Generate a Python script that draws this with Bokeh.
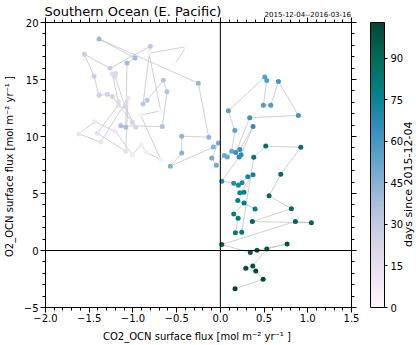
import numpy as np
from bokeh.plotting import figure
from bokeh.models import (ColumnDataSource, LinearColorMapper, ColorBar, Span,
                          LinearAxis, SingleIntervalTicker, FixedTicker)
from bokeh.embed import file_html
from bokeh.resources import INLINE

# ---------------- data ----------------
co2_flux = [-0.515, -0.392, -0.816, -0.682, -0.911, -0.682, -0.854, -0.904, -1.007, -1.197,
            -1.437, -1.617, -1.368, -1.056, -1.082, -1.407, -1.167, -1.167, -1.236, -1.197,
            -1.205, -1.090, -0.968, -1.007, -1.236, -1.293, -1.388, -1.445, -1.556, -1.262,
            -0.801, -0.884, -0.839, -0.652, -0.610, -0.664, -1.140, -1.082, -1.068, -0.976,
            -1.388, -0.252, -0.133, -0.442, -0.442, -0.572, -0.080, -0.023, -0.098, -0.046,
            0.046, 0.080, 0.130, 0.165, 0.092, 0.508, 0.531, 0.492, 0.577, 0.664,
            0.892, 0.336, 0.176, 0.222, 0.374, 0.237, 0.214, 0.016, 0.153, 0.248,
            0.206, 0.314, 0.374, 0.222, 0.271, 0.199, 0.397, 0.271, 0.153, 0.203,
            0.172, 0.245, 0.382, 0.519, 0.920, 0.691, 0.557, 0.812, 0.366, 1.041,
            0.858, 0.016, 0.343, 0.420, 0.763, 0.531, 0.371, 0.291, 0.405, 0.489,
            0.168]
o2_flux = [16.39, 17.87, 17.31, 12.25, 11.88, 7.98, 8.64, 9.31, 8.41, 10.43,
           11.30, 10.23, 9.51, 13.36, 8.70, 10.29, 12.75, 13.06, 15.49, 15.55,
           15.29, 12.60, 10.81, 11.24, 13.50, 13.70, 13.62, 15.29, 17.22, 15.98,
           17.92, 12.84, 13.18, 14.94, 13.93, 10.87, 10.95, 10.81, 16.44, 16.88,
           18.56, 14.68, 9.94, 10.03, 8.55, 7.40, 9.07, 9.42, 8.12, 7.48,
           8.33, 8.20, 8.70, 10.52, 12.25, 15.23, 14.92, 12.75, 12.75, 14.83,
           11.85, 11.65, 8.59, 8.85, 10.87, 8.41, 8.20, 6.07, 5.90, 5.95,
           5.72, 6.47, 6.64, 5.06, 5.12, 4.39, 3.64, 4.16, 3.21, 2.83,
           1.56, 1.61, 8.18, 9.16, 9.05, 6.68, 4.80, 3.67, 2.54, 2.43,
           2.54, 0.52, -0.17, 0.03, 0.57, 0.14, -1.36, -1.56, -1.80, -2.52,
           -3.36]
days = [0, 1, 2, 3, 4, 5, 6, 7, 8, 9, 10, 11, 12, 13, 14, 15, 16, 17, 18, 19,
        20, 21, 22, 23, 24, 25, 26, 27, 28, 29, 31, 32, 33, 34, 35, 36, 37, 38, 39, 40,
        41, 42, 43, 44, 45, 46, 47, 48, 49, 50, 51, 52, 53, 54, 55, 56, 57, 58, 59, 61,
        62, 63, 64, 65, 66, 67, 68, 69, 70, 71, 72, 73, 74, 75, 76, 77, 78, 79, 80, 81,
        82, 83, 84, 86, 87, 88, 89, 90, 91, 92, 93, 94, 95, 96, 97, 98, 99, 100, 101, 102,
        103]

x_ticks = [-2.0, -1.5, -1.0, -0.5, 0.0, 0.5, 1.0, 1.5]
x_tick_labels = ["−2.0", "−1.5", "−1.0", "−0.5", "0.0", "0.5", "1.0", "1.5"]
y_ticks = [-5, 0, 5, 10, 15, 20]
y_tick_labels = ["−5", "0", "5", "10", "15", "20"]
cbar_ticks = [0, 15, 30, 45, 60, 75, 90]
day_min, day_max = 0, 103

title_text = "Southern Ocean (E. Pacific)"
period_text = "2015-12-04--2016-03-16"
x_label = "CO2_OCN surface flux [mol m⁻²  yr⁻¹ ]"
y_label = "O2_OCN surface flux [mol m⁻²  yr⁻¹ ]"
cbar_label = "days since 2015-12-04"

# anchor positions (in axis units) of the header / colour-bar texts
title_anchor_x = -1.0      # centre of the title
period_anchor_x = 1.0      # centre of the period text
cbar_label_anchor_y = 0.3  # anchor of the colour-bar label

# PuBuGn colormap (light -> dark), interpolated
anchors = ['#fff7fb', '#ece2f0', '#d0d1e6', '#a6bddb', '#67a9cf',
           '#3690c0', '#02818a', '#016c59', '#014636']
rgb = np.array([[int(c[i:i + 2], 16) for i in (1, 3, 5)] for c in anchors], dtype=float)
pos = np.linspace(0, 1, len(anchors))
t = np.linspace(0, 1, 256)
palette = ['#%02x%02x%02x' % tuple(int(round(np.interp(v, pos, rgb[:, k]))) for k in range(3))
           for v in t]

FONT = "DejaVu Sans"

# ---------------- figure ----------------
p = figure(frame_width=306, frame_height=285, x_range=(-2.0, 1.5), y_range=(-5, 20),
           output_backend="svg", toolbar_location=None,
           min_border_left=0, min_border_right=0, min_border_top=0, min_border_bottom=0)
p.background_fill_color = "white"
p.border_fill_color = "white"
p.outline_line_color = "black"
p.outline_line_width = 1
p.xgrid.visible = False
p.ygrid.visible = False


def style_axis(ax, label_size="10px"):
    ax.axis_line_color = None
    ax.major_tick_out = 5
    ax.major_tick_in = 0
    ax.minor_tick_out = 3
    ax.minor_tick_in = 0
    ax.major_tick_line_color = "black"
    ax.minor_tick_line_color = "black"
    ax.major_label_text_font = FONT
    ax.axis_label_text_font = FONT
    ax.major_label_text_color = "black"
    ax.axis_label_text_color = "black"
    ax.axis_label_text_font_style = "normal"
    ax.major_label_text_font_size = label_size
    ax.axis_label_text_font_size = "10px"


# bottom axis
p.xaxis.ticker = SingleIntervalTicker(interval=0.5, num_minor_ticks=5)
p.xaxis.major_label_overrides = {v: s for v, s in zip(x_ticks, x_tick_labels)}
p.xaxis.axis_label = x_label
style_axis(p.xaxis[0])
p.xaxis.major_label_standoff = 1
p.xaxis.axis_label_standoff = 6

# left axis
p.yaxis.ticker = SingleIntervalTicker(interval=5, num_minor_ticks=5)
p.yaxis.major_label_overrides = {v: s for v, s in zip(y_ticks, y_tick_labels)}
p.yaxis.axis_label = y_label
style_axis(p.yaxis[0])
p.yaxis.major_label_standoff = 2
p.yaxis.axis_label_standoff = 6

# top axis: mirrored ticks, carries the period text
top_ax = LinearAxis(ticker=SingleIntervalTicker(interval=0.5, num_minor_ticks=5))
style_axis(top_ax, label_size="7px")
top_ax.major_label_overrides = {v: (period_text if v == period_anchor_x else "") for v in x_ticks}
top_ax.major_label_standoff = 1
p.add_layout(top_ax, "above")

# outer top band: the title
title_ax = LinearAxis(ticker=FixedTicker(ticks=[title_anchor_x], minor_ticks=[]))
style_axis(title_ax, label_size="13px")
title_ax.major_tick_out = 0
title_ax.major_tick_line_color = None
title_ax.major_label_overrides = {title_anchor_x: title_text}
title_ax.major_label_standoff = -11
p.add_layout(title_ax, "above")

# right axis: mirrored ticks only
right_ax = LinearAxis(ticker=SingleIntervalTicker(interval=5, num_minor_ticks=5))
style_axis(right_ax, label_size="0px")
right_ax.major_label_standoff = 0
p.add_layout(right_ax, "right")

# zero lines
p.add_layout(Span(location=0, dimension="height", line_color="black", line_width=1))
p.add_layout(Span(location=0, dimension="width", line_color="black", line_width=1))

src = ColumnDataSource(dict(x=co2_flux, y=o2_flux, day=days))
mapper = LinearColorMapper(palette=palette, low=day_min, high=day_max)

p.line("x", "y", source=src, line_color="#c4c4c4", line_width=0.8)
p.scatter("x", "y", source=src, size=5, line_color=None,
          fill_color={"field": "day", "transform": mapper})

cbar = ColorBar(color_mapper=mapper, width=14, padding=0, margin=0,
                location=(14, 0),
                ticker=FixedTicker(ticks=cbar_ticks),
                major_tick_out=3, major_tick_in=0, minor_tick_out=0, minor_tick_in=0,
                major_tick_line_color="black",
                bar_line_color="black", bar_line_width=1,
                label_standoff=3,
                major_label_text_font=FONT, major_label_text_font_size="10px",
                major_label_text_color="black",
                border_line_color=None, background_fill_alpha=0)
p.add_layout(cbar, "right")

# outer right band: the colour-bar label
cb_label_ax = LinearAxis(ticker=FixedTicker(ticks=[cbar_label_anchor_y], minor_ticks=[]))
style_axis(cb_label_ax, label_size="11px")
cb_label_ax.major_tick_out = 0
cb_label_ax.major_tick_line_color = None
cb_label_ax.major_label_overrides = {cbar_label_anchor_y: cbar_label}
cb_label_ax.major_label_orientation = np.pi / 2
cb_label_ax.major_label_standoff = 2
p.add_layout(cb_label_ax, "right")

open("out.html", "w").write(file_html(p, INLINE))
